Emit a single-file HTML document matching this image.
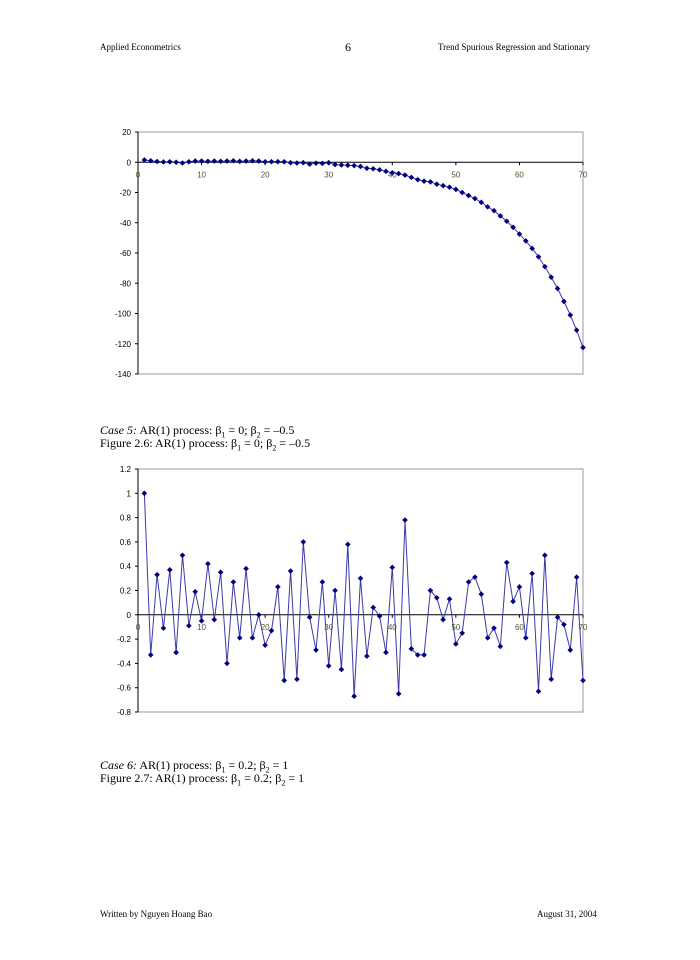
<!DOCTYPE html>
<html><head><meta charset="utf-8"><style>
body{margin:0;background:#fff;width:700px;height:960px;position:relative;font-family:"Liberation Serif",serif;color:#000;overflow:hidden}
.t{position:absolute;white-space:nowrap}
.h{font-size:9px}
.c{font-size:12px;line-height:13px}
svg{position:absolute;left:0;top:0}
</style></head><body>
<div class="t h" style="left:100px;top:42px">Applied Econometrics</div>
<div class="t" style="left:345px;top:40px;font-size:12px">6</div>
<div class="t h" style="left:438px;top:42px">Trend Spurious Regression and Stationary</div>
<div class="t c" style="left:100px;top:424px"><i>Case 5:</i> AR(1) process: β<sub style="font-size:8px">1</sub> = 0; β<sub style="font-size:8px">2</sub> = –0.5</div>
<div class="t c" style="left:100px;top:437px">Figure 2.6: AR(1) process: β<sub style="font-size:8px">1</sub> = 0; β<sub style="font-size:8px">2</sub> = –0.5</div>
<div class="t c" style="left:100px;top:759px"><i>Case 6:</i> AR(1) process: β<sub style="font-size:8px">1</sub> = 0.2; β<sub style="font-size:8px">2</sub> = 1</div>
<div class="t c" style="left:100px;top:772px">Figure 2.7: AR(1) process: β<sub style="font-size:8px">1</sub> = 0.2; β<sub style="font-size:8px">2</sub> = 1</div>
<div class="t h" style="left:100px;top:909px">Written by Nguyen Hoang Bao</div>
<div class="t h" style="left:537px;top:909px">August 31, 2004</div>
<svg id="s" width="700" height="960"></svg>
<script>
const series1 = [1.5,1.0,0.5,0.2,0.3,0,-0.5,0.3,0.8,0.8,0.6,0.8,0.6,0.8,1.0,0.6,0.8,1.0,0.8,0.3,0.4,0.4,0.3,-0.3,-0.5,-0.3,-1.2,-0.6,-0.8,-0.3,-1.5,-1.8,-2,-2.2,-2.8,-4,-4.3,-5,-6,-7,-7.5,-8.5,-10,-11.5,-12.5,-13,-14.5,-15.5,-16.5,-18,-20,-22,-24,-26.5,-29.5,-32,-35.5,-39,-43,-47.5,-52,-57,-62.5,-69,-76,-83.5,-92,-101,-111,-122.5];
const series2 = [1.0,-0.33,0.33,-0.11,0.37,-0.31,0.49,-0.09,0.19,-0.05,0.42,-0.04,0.35,-0.40,0.27,-0.19,0.38,-0.19,0.0,-0.25,-0.13,0.23,-0.54,0.36,-0.53,0.60,-0.02,-0.29,0.27,-0.42,0.20,-0.45,0.58,-0.67,0.30,-0.34,0.06,-0.01,-0.31,0.39,-0.65,0.78,-0.28,-0.33,-0.33,0.20,0.14,-0.04,0.13,-0.24,-0.15,0.27,0.31,0.17,-0.19,-0.11,-0.26,0.43,0.11,0.23,-0.19,0.34,-0.63,0.49,-0.53,-0.02,-0.08,-0.29,0.31,-0.54];
const yTicks1 = [20,0,-20,-40,-60,-80,-100,-120,-140];
const yTicks2 = [1.2,1,0.8,0.6,0.4,0.2,0,-0.2,-0.4,-0.6,-0.8];
const xTicks = [0,10,20,30,40,50,60,70];
const NS='http://www.w3.org/2000/svg', svg=document.getElementById('s');
function mk(tag,a,parent){const e=document.createElementNS(NS,tag);for(const k in a)e.setAttribute(k,a[k]);(parent||svg).appendChild(e);return e;}
function chart(name,data,yt,top,bot,fmt){
  const L=138,R=583,ymax=yt[0],ymin=yt[yt.length-1];
  const xs=v=>L+(R-L)*v/70, ys=v=>top+(bot-top)*(ymax-v)/(ymax-ymin);
  const g=mk('g',{});
  
  
  const fr=mk('rect',{x:L,y:top,width:R-L,height:bot-top,fill:'none',stroke:'#999','stroke-width':1},g);
  
  
  mk('line',{x1:L,y1:top,x2:L,y2:bot,stroke:'#000'},g);
  yt.forEach(v=>{
    mk('line',{x1:L-3,x2:L,y1:ys(v),y2:ys(v),stroke:'#000'},g);
    const t=mk('text',{x:L-7,y:ys(v)+3,'font-size':8,'text-anchor':'end','font-family':'Liberation Sans, sans-serif'},g);
    t.textContent=fmt(v);
    
    
  });
  const z=ys(0);
  mk('line',{x1:L,x2:R,y1:z,y2:z,stroke:'#000'},g);
  xTicks.forEach(v=>{
    mk('line',{x1:xs(v),x2:xs(v),y1:z,y2:z+3,stroke:'#000'},g);
    const t=mk('text',{x:xs(v),y:z+15,'font-size':8,'text-anchor':'middle','font-family':'Liberation Sans, sans-serif',fill:'#553'},g);
    t.textContent=v;
    
    
  });
  const pts=data.map((v,i)=>xs(i+1)+','+ys(v)).join(' ');
  const pl=mk('polyline',{points:pts,fill:'none',stroke:'#3a3aa8','stroke-width':1},g);
  
  
  data.forEach((v,i)=>{
    const cx=xs(i+1),cy=ys(v);
    const m=mk('path',{d:`M${cx},${cy-2.8}L${cx+2.8},${cy}L${cx},${cy+2.8}L${cx-2.8},${cy}Z`,fill:'#000080'},g);
    
    
  });
}
chart('chart-figure-2-5',series1,yTicks1,132,374,v=>String(v));
chart('chart-figure-2-6',series2,yTicks2,469,712,v=>String(v));
</script>
</body></html>
